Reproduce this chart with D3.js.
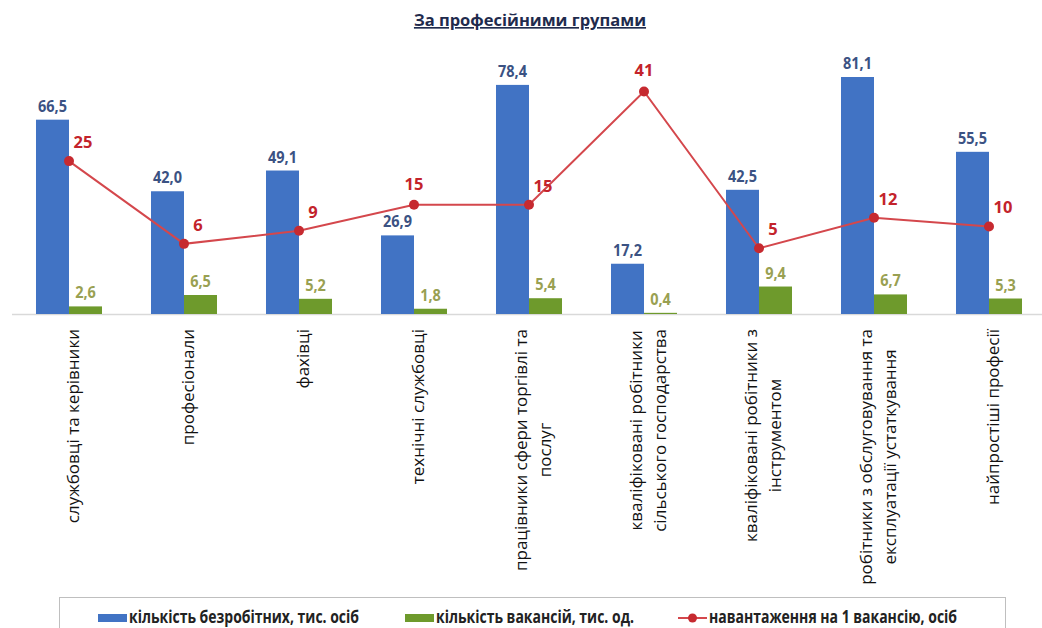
<!DOCTYPE html>
<html>
<head>
<meta charset="utf-8">
<script src="https://cdn.jsdelivr.net/npm/d3@7"></script>
<style>
    body { margin: 0; background: #fff; }
    #chart-area { width: 1042px; height: 628px; overflow: hidden; }
    text { font-family: "Open Sans", "Noto Sans", sans-serif; }
</style>
</head>
<body>
<div id="chart-area"></div>
<script>
// Categories (line breaks as in the source labels)
const categories = [
    "службовці та керівники",
    "професіонали",
    "фахівці",
    "технічні службовці",
    "працівники сфери торгівлі та\nпослуг",
    "кваліфіковані робітники\nсільського господарства",
    "кваліфіковані робітники з\nінструментом",
    "робітники з обслуговування та\nексплуатації устаткування",
    "найпростіші професії"
];

// Series values
const unemployed = [66.5, 42.0, 49.1, 26.9, 78.4, 17.2, 42.5, 81.1, 55.5];
const vacancies = [2.6, 6.5, 5.2, 1.8, 5.4, 0.4, 9.4, 6.7, 5.3];
const loadPerVacancy = [25, 6, 9, 15, 15, 41, 5, 12, 10];

const seriesNames = [
    "кількість безробітних, тис. осіб",
    "кількість вакансій, тис. од.",
    "навантаження на 1 вакансію, осіб"
];
const chartTitle = "За професійними групами";

class ProfGroupsChart {
    constructor(parentElement) {
        this.parentElement = parentElement;
        this.initVis();
    }

    initVis() {
        const vis = this;

        vis.width = 1042;
        vis.height = 628;
        vis.baseY = 314;

        vis.colors = {
            unemployed: "#4173c4",
            vacancies: "#6e9a2c",
            line: "#d4474c",
            marker: "#c62a30",
            unemployedLabel: "#3b5283",
            vacanciesLabel: "#99a052",
            lineLabel: "#c3232b"
        };

        vis.svg = d3.select(`#${vis.parentElement}`)
            .append("svg")
            .attr("width", vis.width)
            .attr("height", vis.height);

        // Title
        vis.svg.append("text")
            .attr("x", 530)
            .attr("y", 26)
            .attr("text-anchor", "middle")
            .attr("font-size", "16.5px")
            .attr("font-weight", "bold")
            .attr("fill", "#1f2b4d")
            .style("text-decoration", "underline")
            .text(chartTitle);

        vis.data = categories.map((c, i) => ({
            category: c,
            unemployed: unemployed[i],
            vacancies: vacancies[i],
            load: loadPerVacancy[i]
        }));

        // Scales
        vis.x = d3.scaleBand()
            .domain(categories)
            .range([11.5, 1046.5])
            .paddingInner(0.426)
            .paddingOuter(0.213);

        vis.xSub = d3.scaleBand()
            .domain(["unemployed", "vacancies"])
            .range([0, vis.x.bandwidth()]);

        vis.yBar = d3.scaleLinear()
            .domain([0, 90])
            .range([vis.baseY, 51]);

        vis.yLine = d3.scaleLinear()
            .domain([0, 45])
            .range([270, 74]);

        vis.cx = d => vis.x(d.category) + vis.x.bandwidth() / 2;

        // Axis (baseline only)
        vis.xAxis = vis.svg.append("g")
            .attr("class", "x-axis")
            .attr("transform", `translate(0,${vis.baseY})`)
            .call(d3.axisBottom(vis.x).tickSize(0).tickSizeOuter(0).tickFormat(""));
        vis.xAxis.select(".domain").attr("stroke", "#d9d9d9").attr("stroke-width", 1.5);

        // Bars
        const keys = ["unemployed", "vacancies"];
        keys.forEach(key => {
            vis.svg.append("g")
                .attr("class", `bars-${key}`)
                .selectAll("rect")
                .data(vis.data)
                .enter()
                .append("rect")
                .attr("x", d => vis.x(d.category) + vis.xSub(key))
                .attr("y", d => vis.yBar(d[key]))
                .attr("width", vis.xSub.bandwidth())
                .attr("height", d => vis.baseY - vis.yBar(d[key]))
                .attr("fill", vis.colors[key]);

            // value labels (source picture is a bit stretched vertically)
            vis.svg.append("g")
                .attr("class", `labels-${key}`)
                .selectAll("text")
                .data(vis.data)
                .enter()
                .append("text")
                .attr("transform", d => `translate(${vis.x(d.category) + vis.xSub(key) + vis.xSub.bandwidth() / 2},${vis.yBar(d[key]) - 8}) scale(1,1.15)`)
                .attr("text-anchor", "middle")
                .attr("font-size", "14.5px")
                .attr("font-weight", "bold")
                .attr("fill", vis.colors[key + "Label"])
                .text(d => d3.format(".1f")(d[key]).replace(".", ","));
        });

        // Line (secondary scale)
        const line = d3.line()
            .x(d => vis.cx(d))
            .y(d => vis.yLine(d.load));

        vis.svg.append("path")
            .datum(vis.data)
            .attr("fill", "none")
            .attr("stroke", vis.colors.line)
            .attr("stroke-width", 2)
            .attr("d", line);

        vis.svg.append("g")
            .selectAll("circle")
            .data(vis.data)
            .enter()
            .append("circle")
            .attr("cx", d => vis.cx(d))
            .attr("cy", d => vis.yLine(d.load))
            .attr("r", 5)
            .attr("fill", vis.colors.marker);

        // labels above the point for these, right of it otherwise
        const aboveIdx = new Set([3, 5]);
        vis.svg.append("g")
            .selectAll("text")
            .data(vis.data)
            .enter()
            .append("text")
            .attr("x", (d, i) => vis.cx(d) + (aboveIdx.has(i) ? 0 : 14))
            .attr("y", (d, i) => vis.yLine(d.load) - (aboveIdx.has(i) ? 15 : 13))
            .attr("text-anchor", "middle")
            .attr("font-size", "16.5px")
            .attr("font-weight", "bold")
            .attr("fill", vis.colors.lineLabel)
            .text(d => d.load);

        // Category labels, rotated, lines centred on each other
        const labelTop = 329;
        const lineH = 24;
        vis.data.forEach(d => {
            const lines = d.category.split("\n");
            const g = vis.svg.append("g")
                .attr("transform", `translate(${vis.cx(d) + 4},${labelTop}) rotate(-90)`);
            const texts = lines.map((l, i) => g.append("text")
                .attr("y", (i - (lines.length - 1) / 2) * lineH)
                .attr("dy", "0.35em")
                .attr("text-anchor", "middle")
                .attr("font-size", "17px")
                .attr("fill", "#111")
                .text(l));
            const maxLen = d3.max(texts, t => t.node().getComputedTextLength());
            texts.forEach(t => t.attr("x", -maxLen / 2));
        });

        // Legend
        const legend = vis.svg.append("g").attr("class", "legend");
        legend.append("rect")
            .attr("x", 59.5)
            .attr("y", 597.5)
            .attr("width", 946)
            .attr("height", 60)
            .attr("fill", "none")
            .attr("stroke", "#bfbfbf");

        const legendItems = [
            { label: seriesNames[0], color: vis.colors.unemployed, type: "rect", x: 98 },
            { label: seriesNames[1], color: vis.colors.vacancies, type: "rect", x: 405 },
            { label: seriesNames[2], color: vis.colors.line, type: "line", x: 678 }
        ];
        const ly = 618;
        legendItems.forEach(item => {
            if (item.type === "rect") {
                legend.append("rect")
                    .attr("x", item.x)
                    .attr("y", ly - 4)
                    .attr("width", 29)
                    .attr("height", 8)
                    .attr("fill", item.color);
            } else {
                legend.append("line")
                    .attr("x1", item.x).attr("x2", item.x + 29)
                    .attr("y1", ly).attr("y2", ly)
                    .attr("stroke", item.color)
                    .attr("stroke-width", 2);
                legend.append("circle")
                    .attr("cx", item.x + 14.5)
                    .attr("cy", ly)
                    .attr("r", 4.5)
                    .attr("fill", vis.colors.marker);
            }
            legend.append("text")
                .attr("transform", `translate(${item.x + 31},${ly + 5}) scale(1,1.3)`)
                .attr("font-size", "14px")
                .attr("font-weight", "bold")
                .attr("fill", "#222")
                .text(item.label);
        });
    }
}

new ProfGroupsChart("chart-area");
</script>
</body>
</html>
